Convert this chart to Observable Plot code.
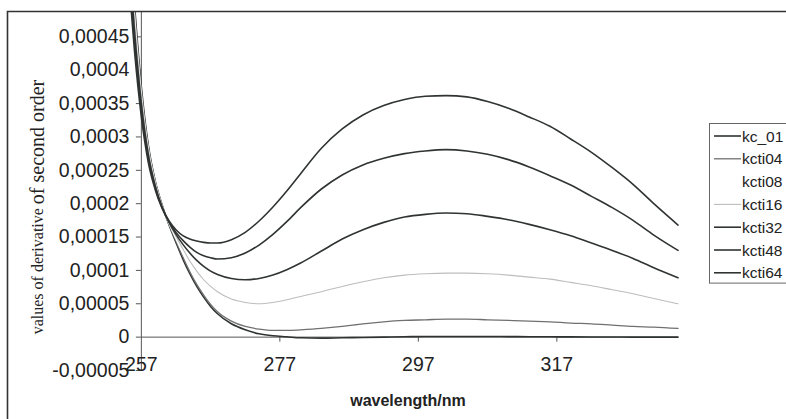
<!DOCTYPE html>
<html>
<head>
<meta charset="utf-8">
<script src="https://cdn.jsdelivr.net/npm/d3@7"></script>
<script src="https://cdn.jsdelivr.net/npm/@observablehq/plot@0.6"></script>
<style>
  html, body { margin: 0; padding: 0; background: #fff; }
  #chart { position: relative; width: 786px; height: 419px; }
</style>
</head>
<body>
<div id="chart"></div>
<script>
// Second-order derivative spectra, wavelength in nm
const wavelength = [255,256,257,258,259,260,261,262,263,264,265,266,267,268,270,272,274,276,278,280,283,286,289,292,295,298,301,304,307,310,313,316,319,322,325,328,331,334.5];

const kc_01  = [0.00065,0.0005,0.000375,0.000288,0.000234,0.000198,0.000168,0.000142,0.000117,0.000095,0.000076,0.00006,0.000046,0.000035,0.00002,0.000011,0.000005,0.000002,0.0000005,-0.000001,-0.0000015,-0.000001,-0.0000005,0,0.0000005,0.000001,0.000001,0.000001,0.000001,0.0000008,0.0000006,0.0000005,0.0000004,0.0000003,0.0000002,0,0,0];
const kcti04 = [0.00064,0.000495,0.00037,0.000286,0.000233,0.000197,0.000169,0.000144,0.00012,0.000098,0.000079,0.000063,0.000049,0.000038,0.000024,0.000016,0.000012,0.00001,0.00001,0.000011,0.000013,0.000016,0.00002,0.000023,0.000025,0.000026,0.000027,0.000027,0.000026,0.000025,0.000024,0.000023,0.000021,0.00002,0.000018,0.000016,0.000015,0.000013];
const kcti08 = [0.00063,0.000485,0.000365,0.000283,0.000232,0.000197,0.00017,0.000147,0.000125,0.000104,0.000086,0.00007,0.000057,0.000046,0.000032,0.000024,0.000021,0.00002,0.000021,0.000024,0.000028,0.000033,0.000038,0.000042,0.000045,0.000047,0.000048,0.000048,0.000047,0.000046,0.000044,0.000042,0.00004,0.000037,0.000034,0.000031,0.000028,0.000025];
const kcti16 = [0.00062,0.000475,0.00036,0.00028,0.00023,0.000196,0.000171,0.000151,0.000132,0.000114,0.000099,0.000086,0.000076,0.000068,0.000057,0.000052,0.00005,0.000052,0.000056,0.000061,0.000068,0.000076,0.000083,0.000089,0.000093,0.000095,0.000096,0.000096,0.000095,0.000093,0.00009,0.000087,0.000082,0.000077,0.000071,0.000065,0.000058,0.00005];
const kcti32 = [0.0006,0.00046,0.00035,0.000274,0.000227,0.000195,0.000172,0.000154,0.000139,0.000126,0.000115,0.000106,0.000099,0.000094,0.000088,0.000086,0.000088,0.000093,0.000101,0.000111,0.000129,0.000147,0.000161,0.000172,0.00018,0.000184,0.000186,0.000185,0.000181,0.000176,0.000169,0.000161,0.000152,0.000141,0.00013,0.000118,0.000104,0.000089];
const kcti48 = [0.00058,0.000445,0.00034,0.000268,0.000224,0.000194,0.000173,0.000157,0.000145,0.000135,0.000127,0.000122,0.000119,0.000117,0.000119,0.000126,0.000138,0.000154,0.000173,0.000194,0.000222,0.000243,0.000258,0.000268,0.000275,0.000279,0.000281,0.000279,0.000274,0.000266,0.000255,0.000242,0.000228,0.000211,0.000194,0.000175,0.000153,0.00013];
const kcti64 = [0.00056,0.00043,0.00033,0.000262,0.000221,0.000193,0.000174,0.000161,0.000152,0.000147,0.000144,0.000142,0.000141,0.000141,0.000146,0.000157,0.000174,0.000195,0.000219,0.000245,0.000283,0.000312,0.000333,0.000347,0.000356,0.000361,0.000362,0.00036,0.000353,0.000343,0.00033,0.000316,0.000297,0.000277,0.000254,0.000229,0.0002,0.000168];

const seriesNames = ["kc_01","kcti04","kcti08","kcti16","kcti32","kcti48","kcti64"];
const seriesValues = [kc_01, kcti04, kcti08, kcti16, kcti32, kcti48, kcti64];

const yTicks = [-0.00005,0,0.00005,0.0001,0.00015,0.0002,0.00025,0.0003,0.00035,0.0004,0.00045];
const yTickLabels = ["-0,00005","0","0,00005","0,0001","0,00015","0,0002","0,00025","0,0003","0,00035","0,0004","0,00045"];
const xTicks = [257,277,297,317];
const xTickLabels = ["257","277","297","317"];

// line styles per series
const lineStyle = {
  kc_01:  {stroke: "#2f3432", width: 1.6},
  kcti04: {stroke: "#707070", width: 1.3},
  kcti08: {stroke: "#ffffff", width: 1.3},
  kcti16: {stroke: "#bdbdbd", width: 1.1},
  kcti32: {stroke: "#2f3432", width: 1.6},
  kcti48: {stroke: "#2f3432", width: 1.6},
  kcti64: {stroke: "#2f3432", width: 1.6}
};

const rows = seriesNames.flatMap((name, s) =>
  wavelength.map((w, i) => ({series: name, nm: w, value: seriesValues[s][i]})));

const sans = "'Liberation Sans', Arial, sans-serif";
const axisColor = "#555";
const xMin = 257;

const chart = Plot.plot({
  width: 786,
  height: 419,
  marginLeft: 127,
  marginRight: 105,
  marginTop: 12,
  marginBottom: 49,
  style: {background: "#fff", overflow: "visible"},
  x: {domain: [255, 335], axis: null},
  y: {domain: [-0.00005, 0.0004865], axis: null},
  marks: [
    // axes
    Plot.ruleY([0], {x1: xMin, x2: 334.5, stroke: axisColor, strokeWidth: 1}),
    Plot.ruleX([xMin], {y1: -0.00005, y2: 0.0004865, stroke: axisColor, strokeWidth: 1}),
    Plot.ruleY(yTicks, {x1: 256.28, x2: xMin, stroke: axisColor, strokeWidth: 1}),
    Plot.ruleX(xTicks.slice(1), {y1: 0, y2: -0.0000075, stroke: axisColor, strokeWidth: 1}),
    Plot.text(yTicks, {x: xMin, y: d => d, text: (d, i) => yTickLabels[i], textAnchor: "end", dx: -12,
      fontFamily: sans, fontSize: 19.5, fill: "#222"}),
    Plot.text(xTicks, {x: d => d, y: -0.00005, text: (d, i) => xTickLabels[i], dy: -6,
      fontFamily: sans, fontSize: 19.5, fill: "#222"}),
    // spectra, drawn in series order
    ...seriesNames.map(name => Plot.line(rows.filter(r => r.series === name), {
      x: "nm", y: "value", curve: "monotone-x", clip: true,
      stroke: lineStyle[name].stroke, strokeWidth: lineStyle[name].width
    }))
  ]
});

document.getElementById("chart").appendChild(chart);

const svg = d3.select(chart);

// chart border (top and left edges)
svg.append("path")
  .attr("d", "M7.5,419 V11.5 H786")
  .attr("fill", "none").attr("stroke", "#333").attr("stroke-width", 1.6);

// axis titles
svg.append("text")
  .attr("x", 408).attr("y", 406)
  .attr("text-anchor", "middle")
  .attr("font-family", sans).attr("font-size", 16).attr("font-weight", "bold")
  .attr("fill", "#222")
  .text("wavelength/nm");

const yTitle = svg.append("text")
  .attr("transform", "translate(37,207) rotate(-90)")
  .attr("text-anchor", "middle")
  .attr("dominant-baseline", "central")
  .attr("font-family", "'Liberation Serif', 'Times New Roman', serif")
  .attr("fill", "#222");
yTitle.append("tspan").attr("font-size", 16).text("values of derivative ");
yTitle.append("tspan").attr("font-size", 20).text("of second order");

// legend
const legendTop = 123.5, rowGap = 22.8;
const lg = svg.append("g").attr("text-anchor", "start");
lg.append("rect")
  .attr("x", 709.5).attr("y", legendTop)
  .attr("width", 90).attr("height", seriesNames.length * rowGap)
  .attr("fill", "#fff").attr("stroke", "#666").attr("stroke-width", 1);
seriesNames.forEach((name, i) => {
  const cy = legendTop + 12.5 + i * rowGap;
  lg.append("line")
    .attr("x1", 714).attr("x2", 741).attr("y1", cy).attr("y2", cy)
    .attr("stroke", lineStyle[name].stroke).attr("stroke-width", lineStyle[name].width);
  lg.append("text")
    .attr("x", 742).attr("y", cy).attr("dominant-baseline", "central")
    .attr("text-anchor", "start")
    .attr("font-family", sans).attr("font-size", 15.5).attr("fill", "#222")
    .text(name);
});
</script>
</body>
</html>
